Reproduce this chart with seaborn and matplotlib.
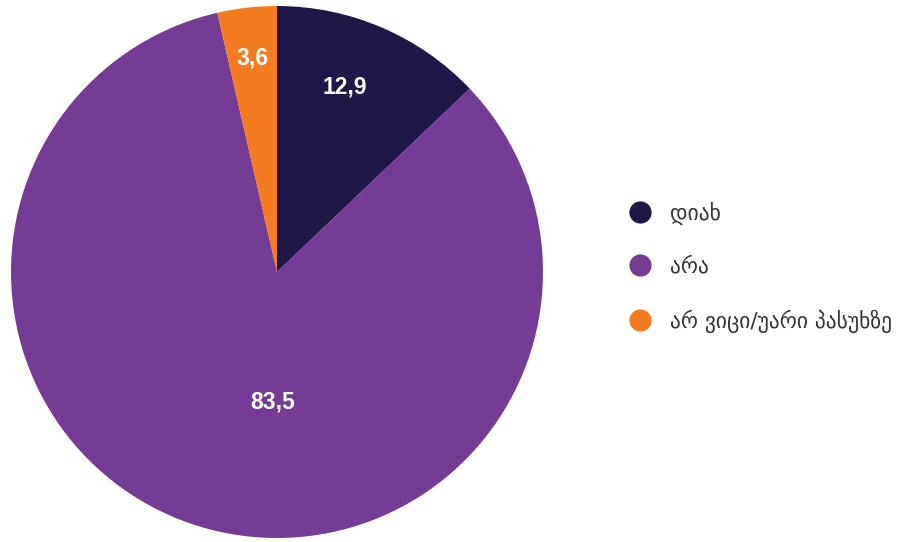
import numpy as np
import matplotlib
matplotlib.use("Agg")
import matplotlib.pyplot as plt
from matplotlib.lines import Line2D
import seaborn as sns

categories = ["დიახ", "არა", "არ ვიცი/უარი პასუხზე"]
values = [12.9, 83.5, 3.6]
value_labels = ["12,9", "83,5", "3,6"]
colors = ["#1E1748", "#753C96", "#F47B20"]
label_dist = [0.74, 0.49, 0.81]
label_shift = [3, 15, 0]

sns.set_theme(style="white")
plt.rcParams['font.family'] = ['DejaVu Sans']

fig = plt.figure(figsize=(8.98, 5.42), dpi=100)
ax = fig.add_axes([11/898, 4/542, 532/898, 532/542])
wedges, _ = ax.pie(values, colors=colors, startangle=90, counterclock=False,
                   radius=1.0, wedgeprops=dict(linewidth=0))
for w, lab, d, s in zip(wedges, value_labels, label_dist, label_shift):
    ang = np.deg2rad((w.theta1 + w.theta2) / 2 + s)
    ax.text(d * np.cos(ang), d * np.sin(ang), lab, ha="center", va="center",
            color="white", fontsize=16.5, fontweight="bold", family="Liberation Sans")
ax.set_xlim(-1, 1)
ax.set_ylim(-1, 1)
ax.set_aspect("equal")
ax.axis("off")

handles = [Line2D([0], [0], marker="o", linestyle="", markersize=16,
                  markerfacecolor=c, markeredgewidth=0) for c in colors]
leg = fig.legend(handles, categories, loc="center left",
                 bbox_to_anchor=(620/898, 1 - 267/542), frameon=False,
                 fontsize=15.5, labelspacing=1.5, handletextpad=0.8,
                 borderaxespad=0, handlelength=1.1)
for t in leg.get_texts():
    t.set_color("#333333")

fig.savefig("out.png", dpi=100)
